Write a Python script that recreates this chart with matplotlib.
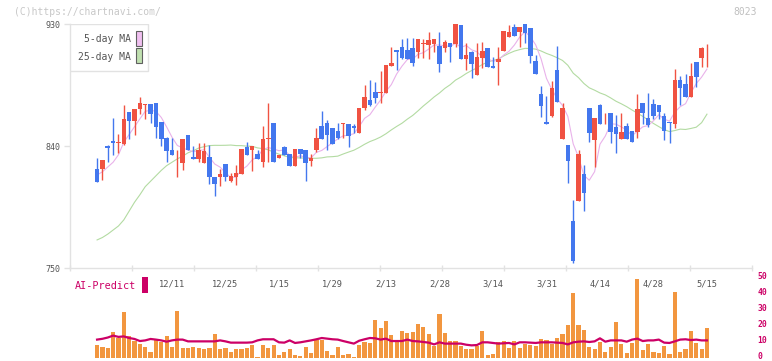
import numpy as np
import pandas as pd
import matplotlib
matplotlib.use("Agg")
import matplotlib.pyplot as plt
from matplotlib.patches import Rectangle
from matplotlib.transforms import offset_copy

# daily candles, red = up, blue = down
opens = [815.4, 823.0, 823.0, 840.0, 843.7, 842.5, 841.5, 865.1, 858.4, 867.0,
         870.5, 870.7, 871.5, 857.5, 846.1, 837.0, 833.0, 827.7, 848.1, 831.6,
         830.7, 827.7, 831.6, 817.4, 817.4, 826.7, 814.4, 817.4, 819.3, 839.5,
         837.0, 833.9, 828.4, 845.0, 857.0, 831.4, 839.3, 833.9, 825.5, 837.8,
         837.0, 829.2, 837.0, 854.8, 857.2, 853.5, 851.1, 856.5, 856.2, 854.8,
         849.8, 867.8, 873.9, 879.6, 879.4, 879.3, 899.2, 910.8, 912.8, 911.0,
         912.0, 909.6, 915.5, 914.5, 915.2, 913.8, 912.0, 915.7, 915.5, 929.3,
         904.4, 909.6, 892.4, 905.2, 912.3, 899.3, 902.2, 910.0, 920.6, 927.5,
         924.3, 930.0, 926.8, 902.7, 878.4, 857.7, 862.1, 896.1, 845.2, 840.7,
         784.7, 799.7, 819.3, 868.0, 844.4, 870.2, 864.0, 864.1, 853.8, 844.9,
         854.8, 851.1, 850.6, 871.5, 860.4, 870.7, 870.2, 862.1, 857.5, 856.2,
         888.7, 885.7, 876.4, 902.0, 904.7, 912.0]
highs = [815.4, 830.9, 829.7, 840.7, 860.9, 848.6, 870.2, 865.1, 867.3, 876.4,
         871.0, 870.7, 871.5, 857.5, 846.6, 845.7, 837.0, 845.2, 848.1, 840.0,
         842.5, 842.5, 840.7, 817.4, 823.0, 826.7, 819.8, 826.0, 837.8, 843.2,
         840.0, 837.3, 854.8, 872.0, 857.0, 833.4, 840.0, 833.9, 837.8, 837.8,
         837.0, 833.9, 853.5, 865.8, 858.9, 853.5, 857.0, 856.7, 856.2, 856.2,
         868.0, 885.0, 888.7, 887.5, 895.3, 899.8, 913.0, 910.8, 918.9, 920.0,
         920.0, 918.9, 918.9, 923.9, 918.9, 923.9, 918.2, 915.7, 930.0, 929.3,
         916.0, 910.3, 916.0, 916.7, 912.3, 905.4, 913.3, 924.8, 929.3, 930.0,
         927.5, 930.0, 926.8, 907.1, 884.5, 877.1, 888.0, 913.8, 871.5, 840.7,
         800.2, 837.0, 826.0, 868.0, 860.7, 871.0, 864.1, 864.1, 862.9, 864.3,
         857.0, 851.1, 878.4, 871.5, 879.1, 874.4, 870.2, 864.1, 857.5, 896.8,
         891.9, 893.1, 901.5, 902.0, 913.3, 915.2]
lows = [815.4, 813.7, 814.9, 828.4, 833.4, 834.6, 840.7, 845.2, 848.1, 863.4,
        860.0, 857.2, 845.7, 840.0, 828.4, 833.1, 817.4, 822.3, 837.0, 830.7,
        828.4, 827.7, 812.0, 803.4, 810.7, 814.4, 813.7, 811.2, 819.0, 833.4,
        821.6, 830.4, 824.8, 828.4, 828.0, 831.0, 833.4, 825.5, 825.5, 830.9,
        814.4, 825.5, 835.8, 844.9, 837.0, 841.5, 845.2, 845.7, 839.5, 849.8,
        849.3, 866.6, 869.5, 871.5, 871.5, 879.3, 899.2, 896.0, 904.0, 904.0,
        899.0, 904.7, 904.7, 904.2, 909.6, 894.8, 909.1, 902.2, 912.8, 904.4,
        896.0, 890.0, 892.4, 897.8, 898.5, 897.8, 885.0, 910.0, 920.6, 921.4,
        913.3, 915.7, 901.5, 893.4, 861.6, 856.2, 861.6, 872.7, 845.2, 812.5,
        753.4, 799.7, 792.3, 843.2, 824.8, 856.5, 856.5, 842.0, 834.6, 844.9,
        844.9, 843.2, 846.1, 856.5, 854.3, 860.2, 860.2, 844.4, 842.0, 853.0,
        870.2, 876.4, 876.4, 883.8, 898.0, 898.5]
closes = [815.4, 813.7, 829.7, 838.8, 842.5, 843.0, 859.9, 858.4, 867.3, 871.5,
          870.8, 863.9, 854.3, 844.9, 836.6, 833.1, 833.1, 845.2, 837.0, 830.7,
          837.0, 836.3, 817.4, 812.0, 819.3, 816.9, 817.9, 819.8, 837.8, 833.4,
          840.0, 830.4, 845.2, 845.2, 828.4, 833.4, 833.4, 825.5, 837.8, 833.9,
          827.7, 831.4, 845.7, 844.9, 848.1, 841.5, 846.1, 856.7, 847.6, 853.5,
          868.0, 876.2, 870.2, 875.7, 879.6, 899.8, 901.0, 909.6, 904.7, 904.0,
          901.0, 918.9, 915.7, 918.2, 918.9, 900.5, 916.5, 912.8, 930.0, 904.4,
          907.1, 900.5, 905.7, 910.1, 898.5, 897.8, 904.4, 924.8, 923.9, 921.4,
          927.5, 923.6, 906.6, 893.4, 869.8, 856.2, 882.8, 872.7, 868.0, 829.2,
          755.2, 833.9, 805.6, 849.8, 860.7, 856.5, 864.1, 850.6, 848.6, 850.6,
          844.9, 843.2, 867.3, 864.6, 855.5, 862.4, 865.3, 851.3, 857.2, 888.7,
          882.5, 876.4, 891.6, 891.2, 912.3, 912.3]

# moving averages: first values (window reaches before the first candle)
ma5_head = [np.nan, 818.6, 821.0, 824.5]
ma25_head = [np.nan, 770.7, 772.5, 775.0, 778.0, 781.0, 785.5, 792.0, 798.5, 804.0,
             810.0, 814.0, 818.0, 822.0, 825.5, 828.0, 830.5, 832.5, 835.0, 836.5,
             838.5, 839.5, 840.3, 840.5]

# volume (right scale) and AI-Predict line
volume = [0, 7.9, 6.9, 6.5, 16.0, 12.5, 28.5, 13.5, 10.4, 9.0,
          6.7, 3.5, 11.0, 10.0, 14.0, 6.7, 29.2, 6.0, 6.0, 6.7,
          6.0, 5.4, 6.0, 14.8, 5.4, 6.0, 3.5, 5.4, 5.4, 6.0,
          7.9, 0.5, 7.9, 6.5, 7.9, 1.7, 3.5, 5.4, 1.7, 1.0,
          6.7, 2.9, 11.0, 11.0, 4.2, 1.7, 6.7, 1.7, 2.3, 0.4,
          7.9, 9.8, 9.2, 23.5, 18.5, 22.9, 14.2, 10.4, 16.7, 15.6,
          16.0, 21.0, 19.2, 15.0, 7.3, 27.3, 15.6, 10.4, 10.4, 7.3,
          5.4, 5.4, 7.3, 16.7, 1.7, 2.3, 9.8, 10.4, 6.0, 10.4,
          6.2, 9.0, 7.9, 7.3, 11.7, 11.0, 9.0, 12.3, 14.8, 20.4,
          40.4, 20.4, 17.3, 6.7, 5.4, 10.0, 3.5, 6.7, 22.3, 8.5,
          2.9, 9.2, 49.2, 4.8, 8.5, 3.5, 2.9, 7.3, 2.3, 41.0,
          3.5, 5.4, 16.7, 9.2, 5.4, 18.5]
ai_predict = [np.nan, 11.5, 12.0, 12.8, 14.0, 13.2, 13.5, 12.5, 11.9, 10.6,
              11.0, 11.9, 11.5, 11.0, 10.2, 11.0, 11.5, 11.5, 10.4, 10.4,
              10.4, 10.4, 10.4, 10.4, 11.0, 10.4, 9.6, 9.6, 9.6, 9.6,
              9.8, 11.0, 11.7, 11.7, 11.7, 9.8, 9.6, 11.0, 9.4, 9.8,
              10.4, 11.0, 11.7, 12.5, 12.1, 11.7, 11.5, 10.6, 9.8, 9.0,
              10.8, 11.7, 12.5, 12.3, 11.5, 12.1, 10.6, 10.6, 10.6, 11.5,
              10.6, 10.4, 10.0, 9.6, 8.5, 9.8, 9.0, 9.0, 9.0, 9.0,
              8.3, 7.9, 8.1, 9.8, 9.8, 9.4, 9.0, 9.2, 9.4, 8.5,
              9.8, 9.8, 9.6, 9.4, 9.8, 9.8, 9.8, 9.6, 9.4, 8.5,
              9.8, 10.2, 10.4, 10.0, 10.4, 12.3, 10.2, 11.0, 11.0, 11.0,
              10.2, 11.5, 12.1, 10.6, 11.0, 11.0, 11.5, 9.6, 9.4, 10.4,
              11.5, 11.7, 11.2, 11.5, 11.0, 11.0]
vol_ticks = [0, 10, 20, 30, 40, 50]

label_idx = [15, 25, 35, 45, 55, 65, 75, 85, 95, 105, 115]
label_txt = ["12/11", "12/25", "1/15", "1/29", "2/13", "2/28",
             "3/14", "3/31", "4/14", "4/28", "5/15"]

df = pd.DataFrame({"open": opens, "high": highs, "low": lows, "close": closes,
                   "vol": volume, "ai": ai_predict})
x = np.arange(len(df))
df["ma5"] = df["close"].rolling(5).mean()
df.loc[:len(ma5_head) - 1, "ma5"] = ma5_head
df["ma25"] = df["close"].rolling(25).mean()
df.loc[:len(ma25_head) - 1, "ma25"] = ma25_head

RED = "#f05242"
BLUE = "#4377ee"
GRID = "#e2e2e2"
MAG = "#cc0066"
mono = "DejaVu Sans Mono"

W, H = 772, 361
def box(x0, y0, x1, y1):
    return [x0 / W, 1 - y1 / H, (x1 - x0) / W, (y1 - y0) / H]

fig = plt.figure(figsize=(W / 100, H / 100), dpi=100)
ax = fig.add_axes(box(70, 24, 752, 268))
axv = fig.add_axes(box(70, 278, 752, 358))
axv.patch.set_visible(False)
xmin, xmax = -4.06, 123.42

# --- price panel
ax.plot(x, df["ma25"], color="#b3dba2", lw=0.8, zorder=1)
ax.plot(x, df["ma5"], color="#e9b2ea", lw=0.8, zorder=1)

up = df["close"] >= df["open"]
cols = np.where(up, RED, BLUE)
ax.vlines(x, df["low"], df["high"], colors=cols, lw=1.0, zorder=2)
body_lo = np.minimum(df["open"], df["close"])
body_h = np.maximum((df["close"] - df["open"]).abs(), 0.6)
ax.bar(x, body_h, bottom=body_lo, width=0.85, color=cols, lw=0, zorder=3)

ax.set_xlim(xmin, xmax)
ax.set_ylim(750, 930)
for s in ["top", "right"]:
    ax.spines[s].set_visible(False)
for s in ["left", "bottom"]:
    ax.spines[s].set_color(GRID)
    ax.spines[s].set_linewidth(1.0)
ax.set_yticks([750, 840, 930])
ax.tick_params(axis="y", length=4, width=1, color=GRID, pad=3,
               labelsize=6, labelcolor="#555555")
ax.set_xticks(label_idx)
ax.set_xticklabels(label_txt)
ax.tick_params(axis="x", which="major", length=0, pad=8,
               labelsize=6.3, labelcolor="#555555")
ax.set_xticks(np.linspace(xmin, xmax, 12), minor=True)
ax.tick_params(axis="x", which="minor", direction="inout", length=4,
               width=1, color=GRID)
for t in ax.get_xticklabels() + ax.get_yticklabels():
    t.set_family(mono)

# legend box
ax.add_patch(Rectangle((70 / W, 1 - 71 / H), 78 / W, 47 / H, transform=fig.transFigure,
                       facecolor="white", edgecolor=GRID, lw=1.0, zorder=5))
fig.text(131 / W, 1 - 39 / H, "5-day MA", ha="right", va="center",
         family=mono, fontsize=7, color="#555555")
fig.text(131 / W, 1 - 56.5 / H, "25-day MA", ha="right", va="center",
         family=mono, fontsize=7, color="#555555")
fig.patches.append(Rectangle((136 / W, 1 - 46 / H), 6 / W, 15 / H, transform=fig.transFigure,
                             facecolor="#f0c0f0", edgecolor="#606060", lw=0.8))
fig.patches.append(Rectangle((136 / W, 1 - 63 / H), 6 / W, 15 / H, transform=fig.transFigure,
                             facecolor="#c0e0b0", edgecolor="#606060", lw=0.8))

# --- volume panel
axv.bar(x, df["vol"], width=0.78, color="#f2963f", lw=0, zorder=1)
axv.plot(x, df["ai"], color=MAG, lw=1.6, zorder=2)
axv.set_xlim(xmin, xmax)
axv.set_ylim(0, 50)
for s in axv.spines.values():
    s.set_visible(False)
axv.set_xticks([])
axv.set_yticks([])
# right scale labels, nudged up a little so the bottom one stays inside
lab_tr = offset_copy(axv.get_yaxis_transform(), fig=fig, x=4, y=0.9, units="points")
for v in vol_ticks:
    axv.text(1.0, v, str(v), transform=lab_tr, ha="left", va="center",
             family=mono, fontsize=5.8, fontweight="bold", color=MAG, clip_on=False)

fig.text(75 / W, 1 - 286 / H, "AI-Predict", ha="left", va="center",
         family=mono, fontsize=7.3, color=MAG)
fig.patches.append(Rectangle((142 / W, 1 - 293 / H), 6 / W, 16 / H,
                             transform=fig.transFigure, facecolor=MAG, lw=0))

fig.text(14 / W, 1 - 12 / H, "(C)https://chartnavi.com/", ha="left", va="center",
         family=mono, fontsize=7, color="#c8c8c8")
fig.text(757 / W, 1 - 12 / H, "8023", ha="right", va="center",
         family=mono, fontsize=7, color="#c0c0c0")

fig.savefig("out.png", dpi=100)
